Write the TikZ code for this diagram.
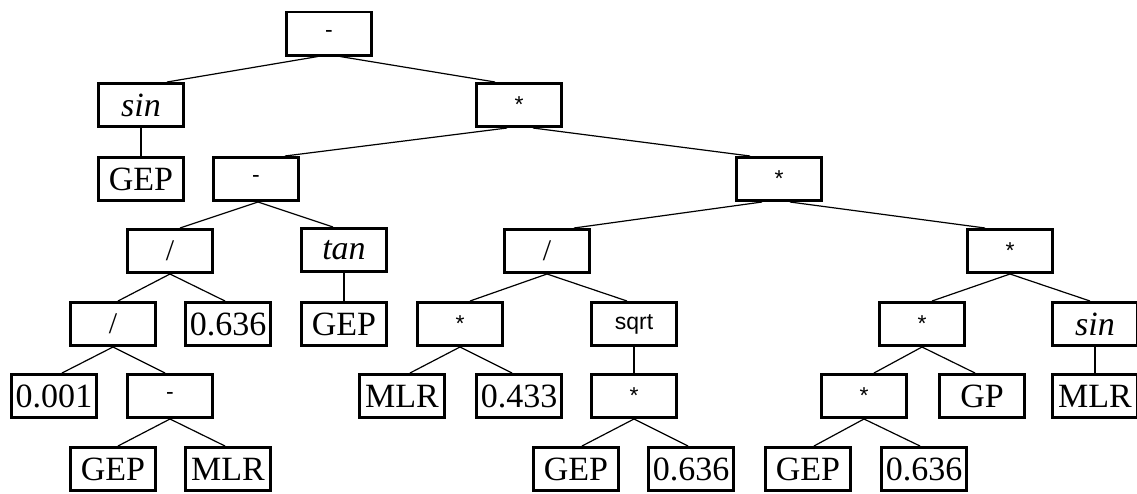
\documentclass[tikz,border=0pt]{standalone}
\usepackage{fontspec}
\setmainfont{Liberation Serif}
\newfontfamily\opsans{Liberation Sans}
\begin{document}
\begin{tikzpicture}[x=1pt,y=-1pt,
  box/.style={draw, line width=2.8pt, minimum width=85.2pt, minimum height=43.2pt, inner sep=0pt, font=\fontsize{34}{34}\selectfont},
  opbox/.style={box, font=\opsans\fontsize{23}{23}\selectfont},
  sqbox/.style={box, font=\opsans\fontsize{23}{23}\selectfont},
  slbox/.style={box, font=\fontsize{30}{30}\selectfont},
  itbox/.style={box, font=\itshape\fontsize{34}{34}\selectfont},
  edge/.style={draw, line width=1.2pt}]
\useasboundingbox (0,0) rectangle (1137,493);
% level 1
\node[opbox] (root) at (329,33.5) {-};
% level 2
\node[itbox] (sinA) at (141,105) {sin};
\node[opbox] (mulA) at (519,105) {*};
% level 3
\node[box] (gepA) at (141,179) {GEP};
\node[opbox] (subA) at (256,179) {-};
\node[opbox] (mulB) at (779,179) {*};
% level 4
\node[slbox] (divA) at (170,251) {/};
\node[itbox] (tanA) at (344,250) {tan};
\node[slbox] (divB) at (547,251) {/};
\node[opbox] (mulC) at (1010,251) {*};
% level 5
\node[slbox] (divC) at (113,324) {/};
\node[box] (cA) at (228,324) {0.636};
\node[box] (gepB) at (344,324) {GEP};
\node[opbox] (mulD) at (460,324) {*};
\node[sqbox] (sqrtA) at (634,324) {sqrt};
\node[opbox] (mulE) at (922,324) {*};
\node[itbox] (sinB) at (1095,324) {sin};
% level 6
\node[box] (cB) at (54,396) {0.001};
\node[opbox] (subB) at (170,396) {-};
\node[box] (mlrA) at (402,396) {MLR};
\node[box] (cC) at (519,396) {0.433};
\node[opbox] (mulF) at (634,396) {*};
\node[opbox] (mulG) at (864,396) {*};
\node[box] (gpA) at (982,396) {GP};
\node[box] (mlrB) at (1095,396) {MLR};
% level 7
\node[box] (gepC) at (113,469) {GEP};
\node[box] (mlrC) at (228,469) {MLR};
\node[box] (gepD) at (576,469) {GEP};
\node[box] (cD) at (691,469) {0.636};
\node[box] (gepE) at (808,469) {GEP};
\node[box] (cE) at (924,469) {0.636};
% connectors
\path[edge] ([xshift=-11pt]root.south) -- ([xshift=26pt]sinA.north);
\path[edge] ([xshift=11pt]root.south) -- ([xshift=-24pt]mulA.north);
\path[edge] (sinA.south) -- (gepA.north);
\path[edge] ([xshift=-12pt]mulA.south) -- ([xshift=29pt]subA.north);
\path[edge] ([xshift=14pt]mulA.south) -- ([xshift=-29pt]mulB.north);
\path[edge] ([xshift=2pt]subA.south) -- ([xshift=10pt]divA.north);
\path[edge] ([xshift=2pt]subA.south) -- ([xshift=-11pt]tanA.north);
\path[edge] ([xshift=-17pt]mulB.south) -- ([xshift=27pt]divB.north);
\path[edge] ([xshift=11pt]mulB.south) -- ([xshift=-25pt]mulC.north);
\path[edge] (divA.south) -- ([xshift=5pt]divC.north);
\path[edge] (divA.south) -- ([xshift=-3pt]cA.north);
\path[edge] (tanA.south) -- (gepB.north);
\path[edge] (divB.south) -- ([xshift=10pt]mulD.north);
\path[edge] (divB.south) -- ([xshift=-7pt]sqrtA.north);
\path[edge] (mulC.south) -- ([xshift=10pt]mulE.north);
\path[edge] (mulC.south) -- ([xshift=-5pt]sinB.north);
\path[edge] (divC.south) -- ([xshift=8pt]cB.north);
\path[edge] (divC.south) -- ([xshift=-5pt]subB.north);
\path[edge] (mulD.south) -- ([xshift=8pt]mlrA.north);
\path[edge] (mulD.south) -- ([xshift=-7pt]cC.north);
\path[edge] (sqrtA.south) -- (mulF.north);
\path[edge] (mulE.south) -- ([xshift=10pt]mulG.north);
\path[edge] (mulE.south) -- ([xshift=-7pt]gpA.north);
\path[edge] (sinB.south) -- (mlrB.north);
\path[edge] (subB.south) -- ([xshift=5pt]gepC.north);
\path[edge] (subB.south) -- ([xshift=-3pt]mlrC.north);
\path[edge] (mulF.south) -- ([xshift=6pt]gepD.north);
\path[edge] (mulF.south) -- ([xshift=-3pt]cD.north);
\path[edge] (mulG.south) -- ([xshift=6pt]gepE.north);
\path[edge] (mulG.south) -- ([xshift=-4pt]cE.north);
\end{tikzpicture}
\end{document}
